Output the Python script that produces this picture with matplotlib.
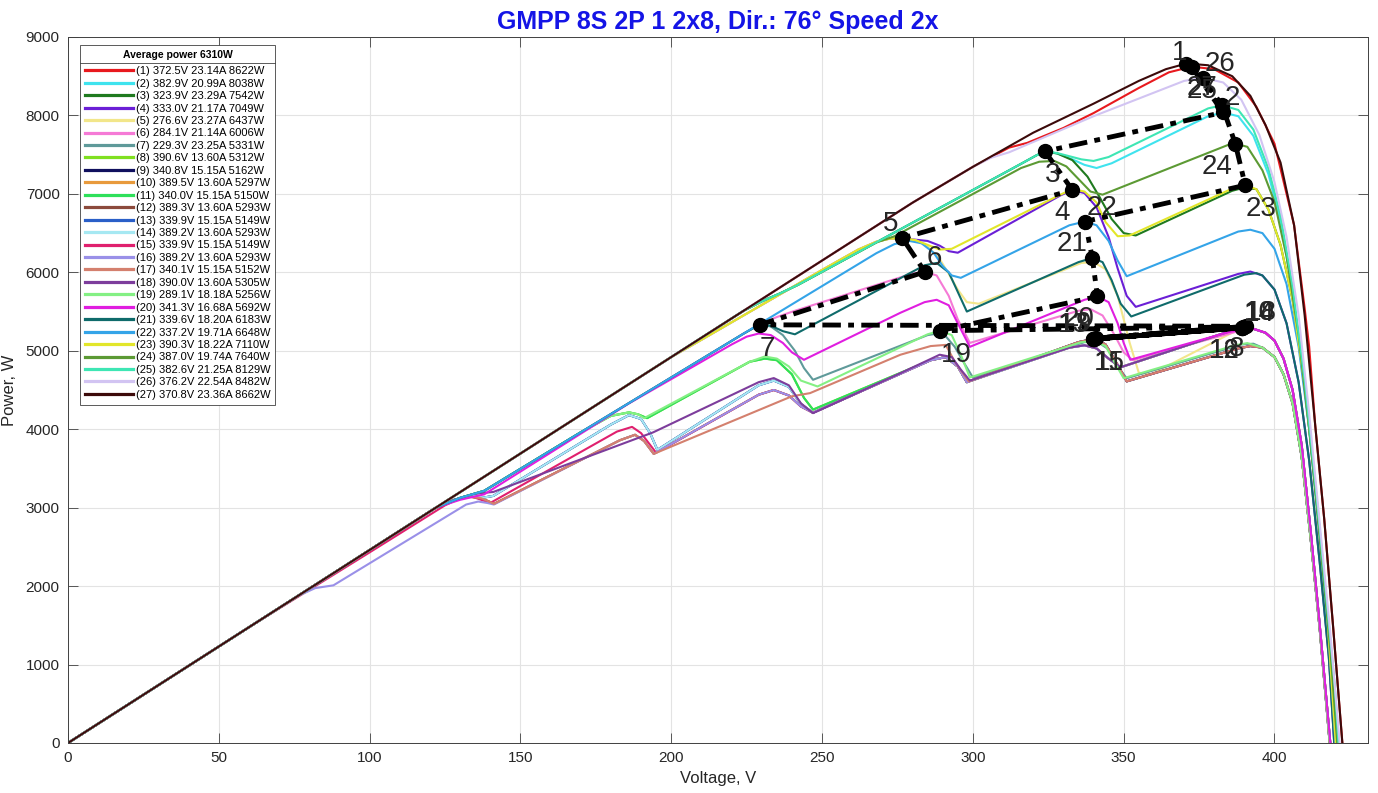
import matplotlib
matplotlib.use("Agg")
import matplotlib.pyplot as plt
from matplotlib.lines import Line2D

# ---------------------------------------------------------------- data
title_text = "GMPP 8S 2P 1 2x8, Dir.: 76\u00b0 Speed 2x"
average_power = 6310

# maximum power point of every snapshot: voltage, current, power
mpp_v = [372.5, 382.9, 323.9, 333.0, 276.6, 284.1, 229.3, 390.6, 340.8, 389.5,
         340.0, 389.3, 339.9, 389.2, 339.9, 389.2, 340.1, 390.0, 289.1, 341.3,
         339.6, 337.2, 390.3, 387.0, 382.6, 376.2, 370.8]
mpp_i = [23.14, 20.99, 23.29, 21.17, 23.27, 21.14, 23.25, 13.60, 15.15, 13.60,
         15.15, 13.60, 15.15, 13.60, 15.15, 13.60, 15.15, 13.60, 18.18, 16.68,
         18.20, 19.71, 18.22, 19.74, 21.25, 22.54, 23.36]
mpp_p = [8622, 8038, 7542, 7049, 6437, 6006, 5331, 5312, 5162, 5297,
         5150, 5293, 5149, 5293, 5149, 5293, 5152, 5305, 5256, 5692,
         6183, 6648, 7110, 7640, 8129, 8482, 8662]

curve_colors = ['#e8191e', '#3fe3ee', '#1f7a1f', '#6b1fd6', '#f2e68a', '#f57ad6',
                '#5f9a9a', '#80e020', '#10105e', '#e89a3c', '#2ee05a', '#8c4a3c',
                '#2a5fc8', '#a6e8f2', '#e0206e', '#9a90e8', '#d4806e', '#7d3d9c',
                '#84f084', '#e01ee0', '#0f6b6b', '#34a4e8', '#e2e62a', '#5c9a34',
                '#3ee6b4', '#d2c4f2', '#3c0a0a']

x_ticks = [0, 50, 100, 150, 200, 250, 300, 350, 400]
y_ticks = [0, 1000, 2000, 3000, 4000, 5000, 6000, 7000, 8000, 9000]

# shared pieces of the P-V curves (voltage in V, power in W)
green_v = [0, 200, 224, 230, 236, 242, 312, 317, 321, 323.9]
green_p = [0, 4920, 5510, 5630, 5730, 5840, 7300, 7405, 7490, 7542]
yellow_v = [0, 200, 210, 250, 262, 268, 272.5, 276.6]
yellow_p = [0, 4920, 5140, 6030, 6290, 6390, 6430, 6437]
path23_v = [0, 122, 130, 138, 150, 200, 224]
path23_p = [0, 3001, 3125, 3215, 3495, 4660, 5219]

early_s_v = [0, 122, 128, 133, 137, 139.5, 141.2, 183, 188, 191, 194.2, 229, 234, 239, 243, 247]
early_s_p = [0, 3001, 3100, 3140, 3120, 3080, 3048, 3860, 3929, 3850, 3686, 4440, 4500, 4430, 4290, 4210]
early_nv_v = [0, 122, 128, 134, 138, 141, 180, 186, 190, 193, 195.4, 229, 234, 239, 243, 247]
early_nv_p = [0, 3001, 3100, 3150, 3130, 3150, 4060, 4180, 4130, 3950, 3737, 4560, 4620, 4540, 4320, 4210]
early_pu_v = [0, 122, 128, 134, 138, 141, 194, 229, 234, 239, 243, 247]
early_pu_p = [0, 3001, 3100, 3170, 3190, 3200, 3960, 4600, 4652, 4560, 4330, 4205]
early_cr_v = [0, 60, 100, 125, 130, 134, 137, 140, 182, 187, 190, 193, 195, 229, 234, 239, 243, 247]
early_cr_p = [0, 1476, 2430, 3030, 3120, 3140, 3100, 3060, 3970, 4030, 3950, 3800, 3700, 4440, 4500, 4430, 4290, 4210]
early_lp_v = [0, 76, 82, 88, 132, 136, 139, 141.2, 183, 188, 191, 194.2, 229, 234, 239, 243, 247]
early_lp_p = [0, 1870, 1975, 2010, 3040, 3078, 3060, 3040, 3860, 3929, 3850, 3686, 4440, 4500, 4430, 4290, 4210]
early_gr_v = [0, 122, 130, 138, 150, 170, 180, 186, 189, 192, 226, 231, 235, 240, 244, 247]
early_gr_p = [0, 3001, 3125, 3215, 3495, 3961, 4170, 4215, 4190, 4141, 4860, 4900, 4880, 4700, 4400, 4250]

drop_top_v = [378, 386, 392, 397, 402, 406.5, 410, 413.5, 416.5, 419.5, 422.5]
drop_top_p = [8640, 8500, 8250, 7880, 7400, 6600, 5450, 4050, 2850, 1450, 0]
drop_a_v = [383, 389, 395, 400, 404, 408, 411.5, 415, 418.5, 421.6]
drop_a_p = [8420, 8200, 7750, 7150, 6450, 5450, 4200, 2800, 1400, 0]
drop_b_v = [388, 393, 398, 402, 406, 410, 413.5, 417, 420, 421.2]
drop_b_p = [8070, 7820, 7320, 6720, 5820, 4620, 3320, 1920, 720, 0]
drop_b2_p = [7990, 7740, 7250, 6650, 5760, 4560, 3260, 1870, 680, 0]
drop_c_v = [391, 396, 400, 404, 408, 411.5, 415, 418.5, 420.8]
drop_c_p = [7600, 7300, 6900, 6200, 5200, 4000, 2600, 1200, 0]
drop_d_v = [394, 398, 402, 406, 410, 413.5, 417, 420.3]
drop_d_p = [7060, 6800, 6350, 5650, 4550, 3300, 1900, 0]
drop_e_v = [396, 400, 404, 408, 411.5, 415, 418, 419.8]
drop_e_p = [5960, 5780, 5350, 4600, 3600, 2300, 1100, 0]
drop_e2_v = [396, 400, 404, 408, 411.5, 415, 418, 420.2]
drop_e2_p = [6500, 6300, 5850, 5050, 4000, 2650, 1350, 0]
drop_f_v = [393, 397, 400, 403, 406, 409, 412, 415, 418.5]
drop_f_p = [5280, 5230, 5130, 4900, 4500, 3800, 2700, 1500, 0]
drop_g_v = [396, 400, 403, 406, 409, 412, 415, 418.3]
drop_g_p = [5040, 4920, 4700, 4330, 3650, 2600, 1450, 0]

# the 27 P-V curves
curve_01_v = [0, 200, 280, 300, 312, 318, 330, 340, 355, 365, 372.5, 380, 388, 394, 400, 406.5, 410, 411.5, 413.5, 416.5, 419.5, 422.5]
curve_01_p = [0, 4920, 6888, 7345, 7590, 7650, 7840, 8030, 8350, 8550, 8622, 8590, 8420, 8110, 7640, 6600, 5540, 5050, 4050, 2850, 1450, 0]
curve_02_v = green_v + [328, 333, 337, 341, 346, 378, 382.9] + drop_b_v
curve_02_p = green_p + [7515, 7440, 7370, 7330, 7390, 7990, 8038] + drop_b2_p
curve_03_v = green_v + [328, 333, 338, 342, 346, 350, 354, 386, 390] + drop_d_v
curve_03_p = green_p + [7515, 7430, 7220, 6960, 6680, 6500, 6470, 7040, 7080] + drop_d_p
curve_04_v = yellow_v + [280, 285, 289, 292, 295, 329, 333, 337, 341, 345, 348, 351, 354, 388, 392] + drop_e_v
curve_04_p = yellow_p + [6420, 6400, 6340, 6270, 6250, 6980, 7049, 7010, 6830, 6450, 6050, 5700, 5560, 5980, 6010] + drop_e_p
curve_05_v = yellow_v + [281, 285, 289, 292, 295, 298, 302, 336, 340, 344, 348, 352, 355, 359, 388, 392] + drop_f_v
curve_05_p = yellow_p + [6410, 6330, 6170, 5980, 5780, 5620, 5600, 6120, 6130, 6040, 5700, 5100, 4720, 4700, 5270, 5300] + drop_f_p
curve_06_v = path23_v + [229, 235, 241, 280, 284.1, 288, 292, 295, 299, 335, 339, 343, 347, 350, 353, 388, 392] + drop_f_v
curve_06_p = path23_p + [5330, 5430, 5510, 5985, 6006, 5960, 5700, 5400, 5100, 5510, 5530, 5450, 5200, 4980, 4880, 5250, 5270] + drop_f_p
curve_07_v = path23_v + [229.3, 233, 237, 241, 244, 247, 285, 290, 294, 297, 300, 337, 341, 345, 348, 351, 389, 393] + drop_g_v
curve_07_p = path23_p + [5331, 5310, 5200, 5000, 4780, 4630, 5200, 5230, 5050, 4850, 4660, 5110, 5120, 5020, 4800, 4650, 5080, 5090] + drop_g_p
curve_08_v = early_gr_v + [286, 291, 295, 298, 332, 337, 341, 345, 349, 386, 390.6] + drop_f_v
curve_08_p = early_gr_p + [4880, 4920, 4800, 4600, 5040, 5070, 5030, 4900, 4790, 5260, 5312] + drop_f_p
curve_09_v = early_nv_v + [286, 291, 295, 298, 335, 340.8, 344, 348, 351, 388, 392] + drop_g_v
curve_09_p = early_nv_p + [4880, 4920, 4800, 4600, 5110, 5162, 5080, 4820, 4610, 5030, 5060] + drop_g_p
curve_10_v = early_s_v + [286, 291, 295, 298, 332, 337, 341, 345, 349, 386, 389.5] + drop_f_v
curve_10_p = early_s_p + [4880, 4920, 4800, 4600, 5040, 5070, 5030, 4900, 4790, 5260, 5297] + drop_f_p
curve_11_v = early_gr_v + [286, 291, 295, 298, 335, 340.0, 344, 348, 351, 388, 392] + drop_g_v
curve_11_p = early_gr_p + [4880, 4920, 4800, 4600, 5110, 5150, 5080, 4820, 4610, 5030, 5060] + drop_g_p
curve_12_v = early_s_v + [286, 291, 295, 298, 332, 337, 341, 345, 349, 386, 389.3] + drop_f_v
curve_12_p = early_s_p + [4880, 4920, 4800, 4600, 5040, 5070, 5030, 4900, 4790, 5260, 5293] + drop_f_p
curve_13_v = early_nv_v + [286, 291, 295, 298, 335, 339.9, 344, 348, 351, 388, 392] + drop_g_v
curve_13_p = early_nv_p + [4880, 4920, 4800, 4600, 5110, 5149, 5080, 4820, 4610, 5030, 5060] + drop_g_p
curve_14_v = early_nv_v + [286, 291, 295, 298, 332, 337, 341, 345, 349, 386, 389.2] + drop_f_v
curve_14_p = early_nv_p + [4880, 4920, 4800, 4600, 5040, 5070, 5030, 4900, 4790, 5260, 5293] + drop_f_p
curve_15_v = early_cr_v + [286, 291, 295, 298, 335, 339.9, 344, 348, 351, 388, 392] + drop_g_v
curve_15_p = early_cr_p + [4880, 4920, 4800, 4600, 5110, 5149, 5080, 4820, 4610, 5030, 5060] + drop_g_p
curve_16_v = early_lp_v + [286, 291, 295, 298, 332, 337, 341, 345, 349, 386, 389.2] + drop_f_v
curve_16_p = early_lp_p + [4880, 4920, 4800, 4600, 5040, 5070, 5030, 4900, 4790, 5260, 5293] + drop_f_p
curve_17_v = [0, 122, 128, 133, 137, 139.5, 141.2, 183, 188, 191, 194.2, 240, 246, 276, 286, 291, 294, 298.6,
              335, 340.1, 344, 348, 351, 388, 392] + drop_g_v
curve_17_p = [0, 3001, 3100, 3140, 3120, 3080, 3048, 3860, 3929, 3850, 3686, 4420, 4460, 4950, 5060, 5075, 4860, 4610,
              5110, 5152, 5080, 4820, 4610, 5030, 5060] + drop_g_p
curve_18_v = early_pu_v + [276, 289, 293, 296, 299, 332, 337, 341, 345, 349, 386, 390.0] + drop_f_v
curve_18_p = early_pu_p + [4715, 4950, 4920, 4760, 4620, 5040, 5070, 5030, 4900, 4790, 5260, 5305] + drop_f_p
curve_19_v = [0, 122, 130, 138, 150, 170, 180, 186, 189, 191, 226, 231, 235, 239, 243, 248.5, 285, 289.1, 293, 296, 299,
              336, 340, 344, 347, 350, 387, 391] + drop_g_v
curve_19_p = [0, 3001, 3125, 3215, 3495, 3961, 4170, 4215, 4190, 4141, 4860, 4927, 4900, 4800, 4620, 4545, 5210, 5256, 5200, 4950, 4660,
              5110, 5125, 5060, 4850, 4650, 5070, 5098] + drop_g_p
curve_20_v = [0, 122, 130, 138, 150, 186, 220, 225, 229, 233, 237, 240, 244, 276, 284, 288, 292, 295, 299,
              337, 341.3, 345, 348, 350, 352.2, 385, 389] + drop_f_v
curve_20_p = [0, 3001, 3100, 3170, 3460, 4330, 5080, 5180, 5220, 5200, 5100, 4980, 4885, 5485, 5620, 5650, 5580, 5350, 5050,
              5650, 5692, 5620, 5350, 5100, 4885, 5240, 5268] + drop_f_p
curve_21_v = path23_v + [229, 233, 237, 241, 284, 288, 292, 295, 298, 335, 339.6, 343, 346, 349, 352.5, 390, 394] + drop_e_v
curve_21_p = path23_p + [5330, 5320, 5250, 5210, 6090, 6120, 6000, 5750, 5500, 6130, 6183, 6130, 5900, 5600, 5437, 5970, 5990] + drop_e_p
curve_22_v = path23_v + [268, 274, 279, 283, 287, 290, 293, 296, 332, 337.2, 341, 345, 348, 351, 388, 392] + drop_e2_v
curve_22_p = path23_p + [6244, 6360, 6400, 6370, 6250, 6080, 5960, 5930, 6600, 6648, 6600, 6400, 6150, 5950, 6520, 6543] + drop_e2_p
curve_23_v = yellow_v + [281, 285, 289, 293, 329, 333, 337, 341, 344, 348, 352, 387.6, 390.3] + drop_d_v
curve_23_p = yellow_p + [6410, 6350, 6290, 6300, 6990, 7060, 7030, 6890, 6640, 6460, 6470, 7096, 7110] + drop_d_p
curve_24_v = [0, 200, 224, 230, 236, 242, 268, 274, 316, 322, 327, 331, 335, 339, 343, 385, 387] + drop_c_v
curve_24_p = [0, 4920, 5510, 5630, 5730, 5840, 6380, 6460, 7330, 7410, 7420, 7350, 7190, 7030, 6990, 7630, 7640] + drop_c_p
curve_25_v = green_v + [328, 332, 336, 340, 345, 378, 382.6] + drop_b_v
curve_25_p = green_p + [7520, 7480, 7440, 7420, 7470, 8090, 8129] + drop_b_p
curve_26_v = [0, 200, 280, 300, 306, 312, 340, 370, 376.2] + drop_a_v
curve_26_p = [0, 4920, 6888, 7345, 7460, 7530, 7990, 8440, 8482] + drop_a_p
curve_27_v = [0, 200, 280, 300, 320, 340, 355, 364, 370.8] + drop_top_v
curve_27_p = [0, 4920, 6888, 7345, 7780, 8150, 8440, 8590, 8662] + drop_top_p

curves = [
    (curve_01_v, curve_01_p), (curve_02_v, curve_02_p), (curve_03_v, curve_03_p),
    (curve_04_v, curve_04_p), (curve_05_v, curve_05_p), (curve_06_v, curve_06_p),
    (curve_07_v, curve_07_p), (curve_08_v, curve_08_p), (curve_09_v, curve_09_p),
    (curve_10_v, curve_10_p), (curve_11_v, curve_11_p), (curve_12_v, curve_12_p),
    (curve_13_v, curve_13_p), (curve_14_v, curve_14_p), (curve_15_v, curve_15_p),
    (curve_16_v, curve_16_p), (curve_17_v, curve_17_p), (curve_18_v, curve_18_p),
    (curve_19_v, curve_19_p), (curve_20_v, curve_20_p), (curve_21_v, curve_21_p),
    (curve_22_v, curve_22_p), (curve_23_v, curve_23_p), (curve_24_v, curve_24_p),
    (curve_25_v, curve_25_p), (curve_26_v, curve_26_p), (curve_27_v, curve_27_p),
]

# ---------------------------------------------------------------- figure
plt.rcParams['font.family'] = ['Liberation Sans', 'DejaVu Sans']
TXT = '#262626'

W, H = 1378, 793
fig = plt.figure(figsize=(W / 100, H / 100), dpi=100)
ax = fig.add_axes([68 / W, 50 / H, 1300 / W, 706 / H])

for k, (v, p) in enumerate(curves):
    n = k + 1
    label = f"({n}) {mpp_v[k]:.1f}V {mpp_i[k]:.2f}A {mpp_p[k]}W"
    ax.plot(v, p, color=curve_colors[k], lw=1.5, label=label,
            solid_joinstyle='round', zorder=2)

# track of the global maximum power point
ax.plot(mpp_v, mpp_p, color='black', lw=3.5, ls=(0, (3.8, 1.5, 1.2, 1.5)),
        marker='o', ms=10, mfc='black', mec='black', zorder=5)

for k, (v, p) in enumerate(zip(mpp_v, mpp_p)):
    n = k + 1
    nd = len(str(n))
    r = n % 4
    if r == 1:
        dx, dy = -4 - 8 * nd, -17
    elif r == 2:
        dx, dy = 1 + 8 * nd, -17
    elif r == 3:
        dx, dy = 8 * nd, 21
    else:
        dx, dy = -2 - 8 * nd, 20
    ax.annotate(str(n), (v, p), xytext=(dx, -(dy + 10)), textcoords='offset pixels',
                ha='center', va='baseline', fontsize=20, color=TXT, zorder=6)

ax.set_xlim(0, 431)
ax.set_ylim(0, 9000)
ax.set_xticks(x_ticks)
ax.set_yticks(y_ticks)
ax.grid(True, color='#e3e3e3', lw=0.8)
ax.set_axisbelow(True)
ax.tick_params(direction='in', length=7, width=0.6, top=True, right=True,
               labelsize=11, labelcolor=TXT, color='#404040', pad=6)
for s in ax.spines.values():
    s.set_color('#404040')
    s.set_linewidth(0.7)

ax.set_xlabel('Voltage, V', fontsize=12, color=TXT, labelpad=4)
ax.set_ylabel('Power, W', fontsize=12, color=TXT, labelpad=6)
ax.set_title(title_text, fontsize=18, fontweight='bold', color='#1414e6', pad=6)

leg = ax.legend(loc='upper left', bbox_to_anchor=(12 / 1300, (743 - 45) / 706),
                fontsize=8, title=f'Average power {average_power}W',
                title_fontproperties={'weight': 'bold', 'size': 7.5},
                handlelength=4.3, handletextpad=0.25, labelspacing=0.22,
                borderpad=0.45, borderaxespad=0, frameon=True, fancybox=False,
                edgecolor='#404040', framealpha=1)
leg.get_frame().set_linewidth(0.6)
leg._legend_box.sep = 4.5
for h in leg.get_lines():
    h.set_linewidth(2.3)

# separator between legend title and entries
fig.canvas.draw()
fb = leg.get_frame().get_window_extent()
tb = leg.get_title().get_window_extent()
ysep = tb.y0 - 3
fig.add_artist(Line2D([fb.x0 / W, fb.x1 / W], [ysep / H, ysep / H],
                      transform=fig.transFigure, color='#404040', lw=0.6))

fig.savefig('out.png', dpi=100)
